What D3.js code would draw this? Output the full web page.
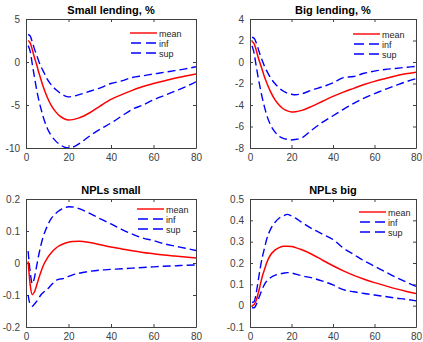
<!DOCTYPE html>
<html>
<head>
<meta charset="utf-8">
<script src="https://cdn.jsdelivr.net/npm/d3@7/dist/d3.min.js"></script>
<style>
  html, body { margin: 0; padding: 0; background: #fff; }
  svg { display: block; font-family: "Liberation Sans", Arial, sans-serif; }
</style>
</head>
<body>
<svg id="chart" width="423" height="342"></svg>
<script>
// Horizon (periods) at which each response is recorded
const horizon = [1,2,3,4,5,6,7,8,10,12,14,16,18,20,22,25,30,35,40,45,50,55,60,65,70,75,80];

// Small lending, %
const smallLendMean = [2.5,2.2,1.4,0.5,-0.3,-1.2,-2.0,-2.8,-4.1,-5.1,-5.8,-6.3,-6.6,-6.75,-6.7,-6.5,-5.9,-5.1,-4.35,-3.8,-3.3,-2.85,-2.5,-2.2,-1.9,-1.62,-1.38];
const smallLendInf  = [1.9,1.2,-0.3,-1.8,-3.2,-4.4,-5.4,-6.3,-7.7,-8.6,-9.2,-9.6,-9.9,-10.0,-9.9,-9.5,-8.6,-7.8,-7.1,-6.3,-5.5,-5.0,-4.4,-3.9,-3.4,-2.9,-2.3];
const smallLendSup  = [3.2,3.0,2.3,1.5,0.8,0.1,-0.5,-1.0,-2.0,-2.7,-3.2,-3.6,-3.9,-4.05,-4.0,-3.8,-3.4,-3.0,-2.5,-2.2,-1.8,-1.6,-1.4,-1.2,-1.0,-0.8,-0.55];

// Big lending, %
const bigLendMean = [1.9,1.7,1.1,0.4,-0.2,-0.8,-1.4,-1.9,-2.8,-3.5,-4.0,-4.35,-4.55,-4.65,-4.62,-4.5,-4.1,-3.65,-3.2,-2.8,-2.45,-2.1,-1.8,-1.55,-1.3,-1.1,-0.95];
const bigLendInf  = [1.5,0.8,-0.4,-1.5,-2.5,-3.4,-4.2,-4.9,-5.9,-6.5,-6.9,-7.1,-7.2,-7.25,-7.2,-7.05,-6.3,-5.6,-5.0,-4.4,-3.85,-3.35,-2.95,-2.55,-2.2,-1.85,-1.55];
const bigLendSup  = [2.3,2.2,1.8,1.2,0.6,0.1,-0.4,-0.8,-1.5,-2.0,-2.4,-2.7,-2.9,-3.0,-3.05,-2.95,-2.6,-2.3,-1.95,-1.45,-1.35,-1.05,-0.85,-0.7,-0.6,-0.5,-0.4];

// NPLs small
const nplSmallMean = [0.005,-0.07,-0.099,-0.09,-0.07,-0.048,-0.028,-0.01,0.015,0.033,0.046,0.055,0.061,0.065,0.067,0.068,0.064,0.057,0.05,0.044,0.038,0.033,0.029,0.025,0.022,0.019,0.016];
const nplSmallInf  = [-0.1,-0.13,-0.135,-0.128,-0.12,-0.11,-0.1,-0.093,-0.082,-0.068,-0.055,-0.05,-0.048,-0.042,-0.037,-0.032,-0.026,-0.022,-0.02,-0.018,-0.016,-0.014,-0.012,-0.01,-0.009,-0.007,-0.006];
const nplSmallSup  = [0.037,-0.03,-0.065,-0.045,-0.01,0.025,0.055,0.08,0.115,0.14,0.155,0.165,0.172,0.176,0.175,0.17,0.155,0.138,0.122,0.105,0.09,0.078,0.07,0.06,0.053,0.046,0.039];

// NPLs big
const nplBigMean = [0.0,0.005,0.025,0.06,0.1,0.14,0.17,0.2,0.24,0.26,0.272,0.278,0.279,0.277,0.272,0.262,0.24,0.213,0.187,0.163,0.142,0.124,0.108,0.094,0.08,0.068,0.057];
const nplBigInf  = [-0.01,-0.01,0.005,0.03,0.055,0.08,0.1,0.115,0.132,0.142,0.148,0.152,0.155,0.153,0.148,0.14,0.13,0.115,0.097,0.075,0.065,0.057,0.05,0.043,0.036,0.03,0.023];
const nplBigSup  = [0.015,0.02,0.06,0.12,0.18,0.23,0.27,0.31,0.36,0.39,0.41,0.42,0.428,0.42,0.41,0.39,0.36,0.335,0.31,0.27,0.24,0.21,0.185,0.16,0.135,0.112,0.09];

// Axis ticks
const xTicks = [0,20,40,60,80];
const smallLendTicks = [-10,-5,0,5];
const bigLendTicks = [-8,-6,-4,-2,0,2,4];
const nplSmallTicks = [-0.2,-0.1,0,0.1,0.2];
const nplBigTicks = [-0.1,0,0.1,0.2,0.3,0.4,0.5];

const titles = ["Small lending, %", "Big lending, %", "NPLs small", "NPLs big"];
const legendLabels = ["mean", "inf", "sup"];

// Panel geometry
const panels = [
  {title: titles[0], mean: smallLendMean, inf: smallLendInf, sup: smallLendSup, yDomain: [-10,5], yTicks: smallLendTicks,
   box: {x0: 26, x1: 196, y0: 19, y1: 148}, leg: {x: 130, y: 33}},
  {title: titles[1], mean: bigLendMean, inf: bigLendInf, sup: bigLendSup, yDomain: [-8,4], yTicks: bigLendTicks,
   box: {x0: 250, x1: 416, y0: 19, y1: 148}, leg: {x: 353, y: 34}},
  {title: titles[2], mean: nplSmallMean, inf: nplSmallInf, sup: nplSmallSup, yDomain: [-0.2,0.2], yTicks: nplSmallTicks,
   box: {x0: 26, x1: 196, y0: 199, y1: 327}, leg: {x: 137, y: 209}},
  {title: titles[3], mean: nplBigMean, inf: nplBigInf, sup: nplBigSup, yDomain: [-0.1,0.5], yTicks: nplBigTicks,
   box: {x0: 250, x1: 416, y0: 199, y1: 327}, leg: {x: 359, y: 212}}
];

const axisColor = "#404040";
const red = "#ff0000";
const blue = "#0000ff";
const dash = "8,4";

const svg = d3.select("#chart");

function fmt(v) {
  if (Math.abs(v) < 1e-9) return "0";
  return String(+v.toFixed(2));
}

panels.forEach(p => {
  const b = p.box;
  const x = d3.scaleLinear().domain([0, 80]).range([b.x0, b.x1]);
  const y = d3.scaleLinear().domain(p.yDomain).range([b.y1, b.y0]);
  const g = svg.append("g");

  // clip curves to the plot box
  const clipId = "clip" + b.x0 + "_" + b.y0;
  svg.append("clipPath").attr("id", clipId)
    .append("rect").attr("x", b.x0).attr("y", b.y0).attr("width", b.x1 - b.x0).attr("height", b.y1 - b.y0);

  // axes (inward ticks, mirrored on top/right)
  const tl = 3;
  const axB = d3.axisBottom(x).tickValues(xTicks).tickSizeInner(-tl).tickSizeOuter(0).tickPadding(6).tickFormat(fmt);
  const axT = d3.axisTop(x).tickValues(xTicks).tickSizeInner(-tl).tickSizeOuter(0).tickFormat("");
  const axL = d3.axisLeft(y).tickValues(p.yTicks).tickSizeInner(-tl).tickSizeOuter(0).tickPadding(6).tickFormat(fmt);
  const axR = d3.axisRight(y).tickValues(p.yTicks).tickSizeInner(-tl).tickSizeOuter(0).tickFormat("");

  [[axB, `translate(0,${b.y1})`], [axT, `translate(0,${b.y0})`], [axL, `translate(${b.x0},0)`], [axR, `translate(${b.x1},0)`]]
    .forEach(([ax, tr]) => {
      const a = g.append("g").attr("transform", tr).call(ax);
      a.select(".domain").attr("stroke", axisColor).attr("stroke-width", 1);
      a.selectAll(".tick line").attr("stroke", axisColor).attr("stroke-width", 1);
      a.selectAll(".tick text").attr("fill", axisColor).style("font-size", "10px")
        .style("font-family", "'Liberation Sans', Arial, sans-serif");
    });

  const line = d3.line().x((d, i) => x(horizon[i])).y(d => y(d)).curve(d3.curveMonotoneX);
  const plot = g.append("g").attr("clip-path", `url(#${clipId})`);

  plot.append("path").datum(p.inf).attr("d", line).attr("fill", "none")
    .attr("stroke", blue).attr("stroke-width", 1.4).attr("stroke-dasharray", dash);
  plot.append("path").datum(p.sup).attr("d", line).attr("fill", "none")
    .attr("stroke", blue).attr("stroke-width", 1.4).attr("stroke-dasharray", dash);
  plot.append("path").datum(p.mean).attr("d", line).attr("fill", "none")
    .attr("stroke", red).attr("stroke-width", 1.5);

  // title
  g.append("text").attr("x", (b.x0 + b.x1) / 2).attr("y", b.y0 - 5)
    .attr("text-anchor", "middle").attr("font-weight", "bold").attr("font-size", "11px")
    .attr("fill", "#000").text(p.title);

  // legend (no frame)
  const styles = [{c: red, d: null}, {c: blue, d: dash}, {c: blue, d: dash}];
  legendLabels.forEach((lab, i) => {
    const ly = p.leg.y + i * 10;
    const ln = g.append("line").attr("x1", p.leg.x).attr("x2", p.leg.x + 27)
      .attr("y1", ly).attr("y2", ly).attr("stroke", styles[i].c).attr("stroke-width", 1.4);
    if (styles[i].d) ln.attr("stroke-dasharray", "10,5").attr("stroke-dashoffset", -1);
    g.append("text").attr("x", p.leg.x + 29).attr("y", ly + 3.5)
      .attr("font-size", "9px").attr("fill", "#262626").text(lab);
  });
});
</script>
</body>
</html>
